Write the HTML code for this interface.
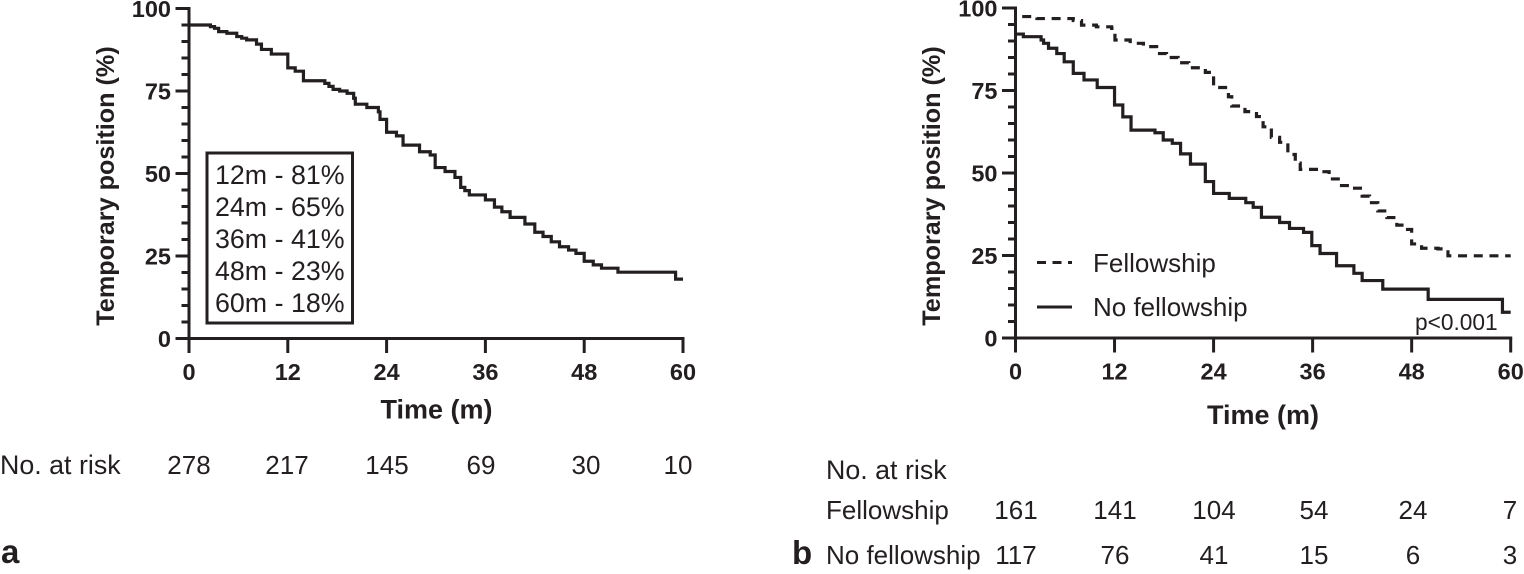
<!DOCTYPE html>
<html>
<head>
<meta charset="utf-8">
<style>
html,body{margin:0;padding:0;background:#fff;width:1524px;height:574px;overflow:hidden}
svg{display:block;font-family:"Liberation Sans",sans-serif}
text{fill:#231f20}
.tick{font-weight:bold;font-size:23.5px}
.title{font-weight:bold;font-size:25.2px}
.xt{font-weight:bold;font-size:27px}
.reg{font-size:26px}
.lg{font-size:26.8px}
.c{text-anchor:middle}
</style>
</head>
<body>
<svg id="figure" width="1524" height="574" viewBox="0 0 1524 574" xmlns="http://www.w3.org/2000/svg">
  <g id="panel-a"></g>
  <g id="panel-b"></g>

  <text class="title" transform="translate(114,186) rotate(-90)" text-anchor="middle">Temporary position (%)</text>
  <text class="xt c" x="436.5" y="418.5">Time (m)</text>
  <text class="title" transform="translate(940,186) rotate(-90)" text-anchor="middle">Temporary position (%)</text>
  <text class="xt c" x="1263" y="424">Time (m)</text>

  <g>
    <rect x="207" y="153" width="145.5" height="170" fill="#fff" stroke="#231f20" stroke-width="3"/>
    <text class="lg" x="215" y="184">12m - 81%</text>
    <text class="lg" x="215" y="216">24m - 65%</text>
    <text class="lg" x="215" y="248">36m - 41%</text>
    <text class="lg" x="215" y="280">48m - 23%</text>
    <text class="lg" x="215" y="312">60m - 18%</text>
  </g>

  <g>
    <line x1="1037" x2="1072" y1="262.5" y2="262.5" stroke="#231f20" stroke-width="3" stroke-dasharray="9 6.5"/>
    <text class="reg" x="1093" y="272">Fellowship</text>
    <line x1="1037" x2="1072" y1="307" y2="307" stroke="#231f20" stroke-width="3"/>
    <text class="reg" x="1093" y="316">No fellowship</text>
  </g>
  <text x="1415" y="330" font-size="22.7">p&lt;0.001</text>

  <g>
    <text class="lg" x="0" y="474">No. at risk</text>
    <text class="reg c" x="189" y="474">278</text>
    <text class="reg c" x="287" y="474">217</text>
    <text class="reg c" x="387" y="474">145</text>
    <text class="reg c" x="481" y="474">69</text>
    <text class="reg c" x="586" y="474">30</text>
    <text class="reg c" x="678" y="474">10</text>
  </g>
  <g>
    <text class="lg" x="826" y="479">No. at risk</text>
    <text class="reg" x="826" y="519">Fellowship</text>
    <text class="reg c" x="1016" y="519">161</text>
    <text class="reg c" x="1115" y="519">141</text>
    <text class="reg c" x="1214" y="519">104</text>
    <text class="reg c" x="1314" y="519">54</text>
    <text class="reg c" x="1413" y="519">24</text>
    <text class="reg c" x="1510" y="519">7</text>
    <text class="reg" x="826" y="564">No fellowship</text>
    <text class="reg c" x="1016" y="564">117</text>
    <text class="reg c" x="1115" y="564">76</text>
    <text class="reg c" x="1214" y="564">41</text>
    <text class="reg c" x="1314" y="564">15</text>
    <text class="reg c" x="1413" y="564">6</text>
    <text class="reg c" x="1510" y="564">3</text>
  </g>
  <text x="1" y="563" font-size="33" font-weight="bold">a</text>
  <text x="792" y="564" font-size="33" font-weight="bold">b</text>
</svg>
<script>
const xTickLabels = [0, 12, 24, 36, 48, 60];
const yTickLabels = [0, 25, 50, 75, 100];
const yMinorTicks = [5, 10, 15, 20, 30, 35, 40, 45, 55, 60, 65, 70, 80, 85, 90, 95];

const overallTimes = [0, 2.6, 3.1, 3.6, 4.6, 5.8, 6.4, 7, 8.2, 8.8, 10, 12, 12.9, 13.9, 16.5, 17, 17.5, 18.3, 19.2, 20, 20.2, 21.6, 23, 23.2, 24, 25.2, 26, 28, 29.3, 29.9, 31.1, 32.3, 33, 33.5, 34.05, 36, 37.1, 38, 39, 40.8, 42, 43, 44, 45, 46.1, 47, 48, 49.1, 50.1, 52.1, 59.1];
const overallSurvival = [95, 94.5, 94, 93, 92.5, 91.5, 91, 90.5, 89.2, 87.6, 86.2, 82, 81, 78.1, 77.3, 76.4, 75.5, 75, 74.3, 72.8, 71, 70, 68.7, 66.4, 62.5, 61.4, 58.6, 56.6, 55.6, 51.8, 50.6, 48.8, 45.8, 44.8, 43.5, 42, 39.8, 38.4, 36.7, 34.7, 32.2, 30.9, 29.3, 27.8, 26.8, 25.8, 23.4, 22.3, 21.3, 20.1, 18];

const fellowshipTimes = [0, 2.6, 7, 8, 9.8, 11.65, 12.05, 13.9, 15.5, 17.1, 18.3, 19.7, 21, 23, 24, 25.8, 26.2, 27.8, 29.2, 30, 31, 32, 33, 33.9, 34.5, 36.7, 38, 39.3, 40.5, 42, 42.9, 43.9, 45, 46.2, 47.2, 48, 49.2, 51.2, 52.4];
const fellowshipSurvival = [97.4, 96.8, 96.2, 94.8, 94.3, 93.8, 90.3, 89.3, 88.3, 86.2, 85, 83.4, 81.9, 80.5, 75.9, 73.1, 70.3, 68.6, 67.1, 64, 60.8, 59.3, 55.6, 53, 51.1, 50.4, 48.2, 46.2, 45.4, 43, 41, 38.5, 36.5, 34.2, 32.9, 28.5, 27.2, 27, 24.9];

const noFellowshipTimes = [0, 0.95, 3.1, 3.4, 4, 5, 5.9, 7, 8.3, 9.9, 12, 13, 14, 16.9, 17.9, 19, 20, 21.2, 23, 24, 25.9, 27.9, 28.8, 29.8, 32, 33.2, 34.9, 35.9, 36.9, 38.9, 41, 42, 44.5, 50, 59];
const noFellowshipSurvival = [92.1, 91.3, 90.3, 89.3, 87.8, 86.2, 83.7, 80.2, 78.2, 75.9, 70.6, 67, 63, 62.2, 60, 59, 55.8, 52.7, 47.4, 43.8, 42.3, 41, 39.6, 36.6, 35, 33.2, 32, 28, 25.6, 21.9, 19.6, 17.4, 14.8, 11.7, 7.8];

const NS = 'http://www.w3.org/2000/svg';
const INK = '#231f20';

function make(parent, tag, attrs, text) {
  const el = document.createElementNS(NS, tag);
  Object.keys(attrs).forEach(function (k) { el.setAttribute(k, attrs[k]); });
  if (text !== undefined) el.textContent = text;
  parent.appendChild(el);
  return el;
}

function stepPath(times, values, xScale, yScale) {
  let d = 'M' + xScale(times[0]) + ' ' + yScale(values[0]);
  for (let i = 1; i < times.length; i++) {
    d += 'H' + xScale(times[i]) + 'V' + yScale(values[i]);
  }
  return d + 'H' + xScale(60);
}

function drawAxes(group, xScale, yScale, labelRight) {
  const x0 = xScale(0);
  const y0 = yScale(0);
  const yAxis = make(group, 'line', {x1: x0, x2: x0, y1: yScale(100) - 1.5, y2: y0 + 14.5, stroke: INK, 'stroke-width': 3});
  
  
  const xAxis = make(group, 'line', {x1: x0 - 13.5, x2: xScale(60) + 1.5, y1: y0, y2: y0, stroke: INK, 'stroke-width': 3});
  
  

  yTickLabels.forEach(function (v) {
    const t = make(group, 'line', {x1: x0 - 13.5, x2: x0, y1: yScale(v), y2: yScale(v), stroke: INK, 'stroke-width': 3});
    
    
    const l = make(group, 'text', {x: labelRight, y: yScale(v) + 8.5, 'text-anchor': 'end', class: 'tick'}, v);
    
    
  });
  yMinorTicks.forEach(function (v) {
    const t = make(group, 'line', {x1: x0 - 7.5, x2: x0, y1: yScale(v), y2: yScale(v), stroke: INK, 'stroke-width': 3});
    
    
  });
  xTickLabels.forEach(function (v) {
    const t = make(group, 'line', {x1: xScale(v), x2: xScale(v), y1: y0, y2: y0 + 14.5, stroke: INK, 'stroke-width': 3});
    
    
    const l = make(group, 'text', {x: xScale(v), y: y0 + 41.5, 'text-anchor': 'middle', class: 'tick'}, v);
    
    
  });
}

const xA = function (t) { return 189 + t * (683 - 189) / 60; };
const yA = function (s) { return 338.5 - s * 3.3; };
const xB = function (t) { return 1015.5 + t * (1510.7 - 1015.5) / 60; };
const yB = function (s) { return 338 - s * 3.3; };

const panelA = document.getElementById('panel-a');
const panelB = document.getElementById('panel-b');

drawAxes(panelA, xA, yA, 171);
drawAxes(panelB, xB, yB, 997.5);

const overallLine = make(panelA, 'path', {d: stepPath(overallTimes, overallSurvival, xA, yA), fill: 'none', stroke: INK, 'stroke-width': 3.2});



const fellowshipLine = make(panelB, 'path', {d: stepPath(fellowshipTimes, fellowshipSurvival, xB, yB), fill: 'none', stroke: INK, 'stroke-width': 3.2, 'stroke-dasharray': '9 6.7', 'stroke-dashoffset': '9'});



const noFellowshipLine = make(panelB, 'path', {d: stepPath(noFellowshipTimes, noFellowshipSurvival, xB, yB), fill: 'none', stroke: INK, 'stroke-width': 3.2});


</script>
</body>
</html>
